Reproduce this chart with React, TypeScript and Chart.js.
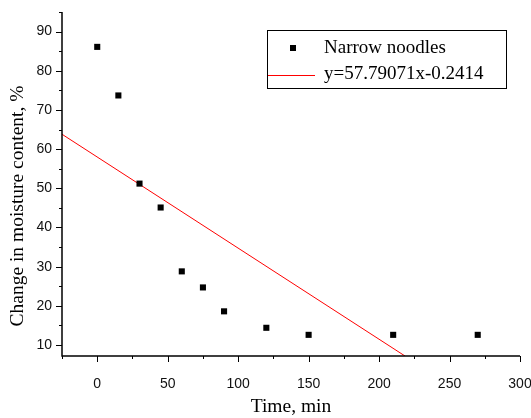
import React, { useEffect, useRef } from "react";
import { Chart, registerables } from "chart.js";

Chart.register(...registerables);

const timeMin = [0, 15, 30, 45, 60, 75, 90, 120, 150, 210, 270];
const moisture = [86.1, 73.7, 51.2, 45.1, 28.8, 24.7, 18.6, 14.4, 12.6, 12.6, 12.6];
const fitX = [-25, 218.4];
const fitY = [63.8, 7.2];
const seriesName = "Narrow noodles";
const fitName = "y=57.79071x-0.2414";
const xTitle = "Time, min";
const yTitle = "Change in moisture content, %";

const SANS = "'Liberation Sans', Arial, sans-serif";
const SERIF = "'Liberation Serif', 'Times New Roman', serif";

const axesPlugin = {
  id: "originAxes",
  afterDraw(chart: any) {
    const ctx = chart.ctx;
    const xs = chart.scales.x;
    const ys = chart.scales.y;
    const { left, right, top, bottom } = chart.chartArea;
    ctx.save();
    ctx.strokeStyle = "#000";
    ctx.lineWidth = 1.5;
    ctx.beginPath();
    ctx.moveTo(left, top);
    ctx.lineTo(left, bottom);
    ctx.lineTo(right, bottom);
    ctx.stroke();
    ctx.lineWidth = 1;
    ctx.beginPath();
    for (let v = -25; v <= 300; v += 25) {
      const px = Math.round(xs.getPixelForValue(v)) + 0.5;
      const len = v % 50 === 0 ? 6 : 3;
      ctx.moveTo(px, bottom);
      ctx.lineTo(px, bottom + len);
    }
    for (let v = 10; v <= 95; v += 5) {
      const py = Math.round(ys.getPixelForValue(v)) + 0.5;
      const len = v % 10 === 0 ? 6 : 3;
      ctx.moveTo(left, py);
      ctx.lineTo(left - len, py);
    }
    ctx.stroke();

    // axis titles
    ctx.fillStyle = "#000";
    ctx.font = "19.5px " + SERIF;
    ctx.textAlign = "center";
    ctx.textBaseline = "middle";
    ctx.fillText(xTitle, (left + right) / 2, 407);
    ctx.save();
    ctx.translate(18, 206);
    ctx.rotate(-Math.PI / 2);
    ctx.fillText(yTitle, 0, 0);
    ctx.restore();

    // legend
    ctx.lineWidth = 1;
    ctx.strokeStyle = "#000";
    ctx.strokeRect(267.5, 30.5, 239, 58);
    ctx.fillStyle = "#000";
    ctx.fillRect(290, 45, 6, 6);
    ctx.strokeStyle = "#ff0000";
    ctx.beginPath();
    ctx.moveTo(268, 75.5);
    ctx.lineTo(315, 75.5);
    ctx.stroke();
    ctx.fillStyle = "#000";
    ctx.font = "19px " + SERIF;
    ctx.textAlign = "left";
    ctx.fillText(seriesName, 324, 48);
    ctx.fillText(fitName, 324, 74);
    ctx.restore();
  },
};

export default function App() {
  const ref = useRef<HTMLCanvasElement>(null);
  useEffect(() => {
    if (!ref.current) return;
    const chart = new Chart(ref.current, {
      type: "scatter",
      data: {
        datasets: [
          {
            label: seriesName,
            data: timeMin.map((x, i) => ({ x, y: moisture[i] })),
            pointStyle: "rect",
            pointRadius: 4.3,
            backgroundColor: "#000",
            borderColor: "#000",
            borderWidth: 0,
          },
          {
            label: fitName,
            data: fitX.map((x, i) => ({ x, y: fitY[i] })),
            showLine: true,
            borderColor: "#ff0000",
            borderWidth: 1,
            pointRadius: 0,
          },
        ],
      },
      options: {
        responsive: false,
        animation: false,
        layout: { padding: { top: 12, right: 11, left: 0, bottom: 0 } },
        plugins: { legend: { display: false }, tooltip: { enabled: false } },
        scales: {
          x: {
            type: "linear",
            min: -25,
            max: 300,
            grid: { display: false, drawTicks: false },
            border: { display: false },
            afterFit: (s: any) => {
              s.height = 62;
              s.paddingLeft = 0;
              s.paddingRight = 0;
            },
            ticks: {
              stepSize: 25,
              includeBounds: false,
              autoSkip: false,
              maxRotation: 0,
              padding: 20,
              color: "#111",
              font: { family: SANS, size: 14 },
              callback: (v: any) => (Number(v) % 50 === 0 ? String(v) : ""),
            },
          },
          y: {
            type: "linear",
            min: 7.2,
            max: 95,
            grid: { display: false, drawTicks: false },
            border: { display: false },
            afterFit: (s: any) => {
              s.width = 62;
              s.paddingTop = 0;
              s.paddingBottom = 0;
            },
            ticks: {
              stepSize: 5,
              includeBounds: false,
              autoSkip: false,
              padding: 10,
              color: "#111",
              font: { family: SANS, size: 14 },
              callback: (v: any) => {
                const n = Number(v);
                return Math.abs(n - Math.round(n / 10) * 10) < 1e-6 && n >= 10 && n <= 90 ? String(n) : "";
              },
            },
          },
        },
      },
      plugins: [axesPlugin],
    });
    return () => chart.destroy();
  }, []);
  return (
    <div style={{ position: "fixed", left: 0, top: 0, width: 531, height: 418, background: "#fff" }}>
      <canvas ref={ref} width={531} height={418} />
    </div>
  );
}
